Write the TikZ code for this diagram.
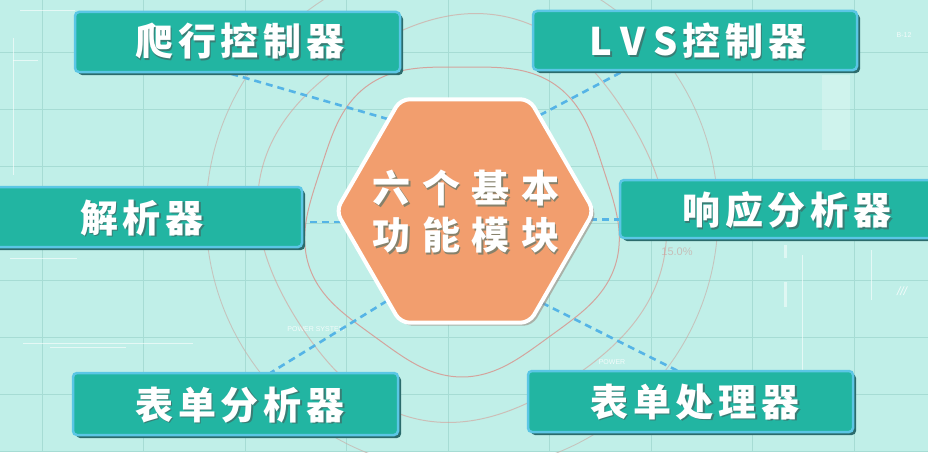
\documentclass[tikz,border=0pt]{standalone}
\usepackage{fontspec}
\usetikzlibrary{shapes.geometric,shadows,calc}
\newfontfamily\boxfont{Noto Sans CJK SC}[LetterSpace=13]
\newfontfamily\hexfont{Noto Sans CJK SC}[LetterSpace=30]
\newfontfamily\decofont{Liberation Sans}
\definecolor{bgc}{HTML}{C0EFE8}
\definecolor{gridc}{HTML}{A6DCD4}
\definecolor{boxfill}{HTML}{22B5A2}
\definecolor{boxborder}{HTML}{5BC6E5}
\definecolor{boxshadow}{HTML}{2B6B6C}
\definecolor{hexfill}{HTML}{F29E6E}
\definecolor{hexshadow}{HTML}{9C8A80}
\definecolor{dashc}{HTML}{55B4E6}
\definecolor{ringc}{HTML}{D79790}
\definecolor{ringfaint}{HTML}{C8B2AC}
\definecolor{txtshadow}{HTML}{3F6F6A}
\begin{document}
\begin{tikzpicture}[x=1pt,y=-1pt,
  gridline/.style={draw=gridc, line width=0.8pt},
  deco/.style={draw=white, line width=0.8pt, opacity=0.6},
  decotext/.style={text=white, opacity=0.8, font=\decofont\fontsize{7}{8}\selectfont, inner sep=0},
  ring/.style={draw=ringc, line width=1pt, opacity=0.85},
  conn/.style={draw=dashc, line width=2.6pt, dash pattern=on 7pt off 5pt},
  modbox/.style={draw=boxborder, line width=2.5pt, fill=boxfill, rounded corners=4pt,
    inner sep=0, drop shadow={shadow xshift=3pt, shadow yshift=-3pt, fill=boxshadow, opacity=1}},
  lbl/.style={text=white, inner sep=0, font=\boxfont\bfseries\fontsize{38}{40}\selectfont},
  lblsh/.style={lbl, text=txtshadow, opacity=0.8},
  hexlbl/.style={text=white, inner sep=0, align=center, font=\hexfont\bfseries\fontsize{38}{47}\selectfont},
  hexlblsh/.style={hexlbl, text=txtshadow, opacity=0.6}]
\useasboundingbox (0,0) rectangle (928,452);
\clip (0,0) rectangle (928,452);
\fill[bgc] (0,0) rectangle (928,452);
% grid
\foreach \i in {0,...,8} \draw[gridline] ({42+101.5*\i},0) -- ({42+101.5*\i},452);
\foreach \j in {0,...,7} \draw[gridline] (0,{52+57*\j}) -- (928,{52+57*\j});
% faint decorations
\draw[deco] (13,38) -- (13,175);
\draw[deco] (20,10) -- (75,10);
\draw[deco] (13,60) -- (38,60);
\draw[deco] (10,258) -- (77,258);
\draw[deco] (23,343) -- (193,343);
\draw[deco] (50,347) -- (126,347);
\draw[deco] (802,255) -- (802,400);
\draw[deco] (871,250) -- (871,300);
\draw[deco, line width=3pt, opacity=0.5] (785,245) -- (785,258);
\draw[deco, line width=3pt, opacity=0.5] (785,282) -- (785,307);
\fill[white, opacity=0.25] (822,75) rectangle (850,150);
\node[decotext] (d1) at (904,35) {B-12};
\node[decotext, font=\decofont\itshape\fontsize{12}{12}\selectfont] (d2) at (902,291) {///};
\node[decotext] (d3) at (612,362) {POWER};
\node[decotext, text=ringfaint, font=\decofont\fontsize{11}{12}\selectfont] (d4) at (677,252) {15.0\%};
\node[decotext] (d5) at (316,329) {POWER SYSTEM};
% rings
\draw[ring] plot[domain=0:360, samples=120, smooth]
  ({462+(155+6*sin(5*\x))*cos(\x)}, {216+(155+6*sin(5*\x))*sin(\x)});
\draw[ring, opacity=0.55] plot[domain=0:360, samples=120, smooth]
  ({462+(200+6*sin(4*\x+40))*cos(\x)}, {218+(200+6*sin(4*\x+40))*sin(\x)});
\draw[draw=ringfaint, line width=0.9pt, opacity=0.7] (462,215) circle (256);
% central hexagon and boxes (placed first so connectors can name them)
\node[regular polygon, regular polygon sides=6, minimum size=260pt, inner sep=0] (hex) at (465,211) {};
\node[minimum width=325pt, minimum height=60pt, inner sep=0] (b1) at (237.5,42) {};
\node[minimum width=324pt, minimum height=59pt, inner sep=0] (b2) at (695,40.5) {};
\node[minimum width=322pt, minimum height=60pt, inner sep=0] (b3) at (141,217) {};
\node[minimum width=330pt, minimum height=58pt, inner sep=0] (b4) at (785,209) {};
\node[minimum width=325pt, minimum height=62pt, inner sep=0] (b5) at (235.5,404) {};
\node[minimum width=325pt, minimum height=61pt, inner sep=0] (b6) at (690.5,401.5) {};
% connectors
\draw[conn] (hex.130) -- ([xshift=-12pt]b1.south);
\draw[conn] (hex.52) -- ([xshift=-70pt]b2.south);
\draw[conn] (hex.185) -- (b3.east |- hex.185);
\draw[conn] (hex.356) -- (b4.west |- hex.356);
\draw[conn] (hex.229) -- ([xshift=35pt]b5.north);
\draw[conn] (hex.310) -- ([xshift=-13pt]b6.north);
% visible shapes
\node[regular polygon, regular polygon sides=6, minimum size=258pt, inner sep=0,
  fill=hexfill, draw=white, line width=4pt, rounded corners=9pt,
  drop shadow={shadow xshift=3pt, shadow yshift=-3pt, fill=hexshadow, opacity=0.6}] (hexv) at (hex.center) {};
\node[modbox, minimum width=325pt, minimum height=60pt] (b1v) at (b1.center) {};
\node[modbox, minimum width=324pt, minimum height=59pt] (b2v) at (b2.center) {};
\node[modbox, minimum width=322pt, minimum height=60pt] (b3v) at (b3.center) {};
\node[modbox, minimum width=330pt, minimum height=58pt] (b4v) at (b4.center) {};
\node[modbox, minimum width=325pt, minimum height=62pt] (b5v) at (b5.center) {};
\node[modbox, minimum width=325pt, minimum height=61pt] (b6v) at (b6.center) {};
% labels: shadow then white
\foreach \nm/\px/\py/\tx in {t1/240/41/{爬行控制器}, t3/142/218/{解析器}, t4/787/210/{响应分析器}, t5/240/405/{表单分析器}, t6/695/402/{表单处理器}}{
  \node[lblsh] at (\px+1.6,\py+1.6) {\tx};
  \node[lbl] (\nm) at (\px,\py) {\tx};
}
\node[lblsh] at (699.6,42.6) {L\hspace{8pt}V\hspace{8pt}S控制器};
\node[lbl] (t2) at (698,41) {L\hspace{8pt}V\hspace{8pt}S控制器};
\node[hexlblsh] at (467.5,213.5) {六个基本\\功能模块};
\node[hexlbl] (ht) at (466,212) {六个基本\\功能模块};
\end{tikzpicture}
\end{document}
